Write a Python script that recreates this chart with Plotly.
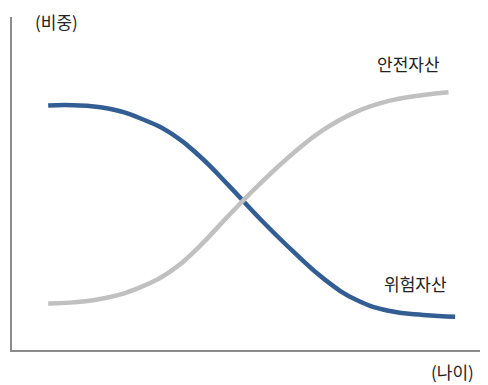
import plotly.graph_objects as go

# age axis (arbitrary units 0-100) and weight (0-100)
age = [7.6, 12.9, 19.9, 26.9, 33.9, 39.5, 45.4, 52.5, 59.5, 65.4, 72.4, 79.4, 86.4]
risk_y = [73.4, 73.5, 72.6, 69.6, 64.6, 58.1, 49.6, 38.8, 29.0, 21.5, 15.0, 11.7, 10.5]
safe_y = [14.0, 14.3, 15.7, 18.8, 24.2, 31.3, 40.2, 50.5, 59.6, 66.1, 71.6, 74.9, 76.6]
risk_end = (93.1, 10.0)
safe_end = (91.7, 77.4)
labels = ["위험자산", "안전자산"]

FONT = "Noto Sans CJK KR"

fig = go.Figure()
fig.add_trace(go.Scatter(x=age + [risk_end[0]], y=risk_y + [risk_end[1]], mode="lines", name=labels[0],
                         line=dict(color="#335e93", width=4.5, shape="spline", smoothing=1.3)))
fig.add_trace(go.Scatter(x=age + [safe_end[0]], y=safe_y + [safe_end[1]], mode="lines", name=labels[1],
                         line=dict(color="#c0c0c0", width=4.5, shape="spline", smoothing=1.3)))

fig.update_layout(
    width=480, height=377,
    margin=dict(l=4, r=0, t=9, b=35),
    paper_bgcolor="white", plot_bgcolor="white",
    showlegend=False,
    font=dict(family=FONT, size=17, color="#222222"),
    xaxis=dict(range=[0, 100], showgrid=False, zeroline=False, showticklabels=False,
               ticks="", showline=True, linecolor="#8c8c8c", linewidth=1.5, fixedrange=True),
    yaxis=dict(range=[0, 100], showgrid=False, zeroline=False, showticklabels=False,
               ticks="", showline=True, linecolor="#8c8c8c", linewidth=1.5, fixedrange=True),
    annotations=[
        dict(text="(비중)", xref="paper", yref="paper", x=0.094, y=0.985,
             showarrow=False, xanchor="center", yanchor="middle"),
        dict(text="(나이)", xref="paper", yref="paper", x=0.926, y=-0.066,
             showarrow=False, xanchor="center", yanchor="middle"),
        dict(text=labels[1], xref="x", yref="y", x=83.2, y=86.1,
             showarrow=False, xanchor="center", yanchor="middle"),
        dict(text=labels[0], xref="x", yref="y", x=84.7, y=19.9,
             showarrow=False, xanchor="center", yanchor="middle"),
    ],
)

fig.write_html("out.html")
